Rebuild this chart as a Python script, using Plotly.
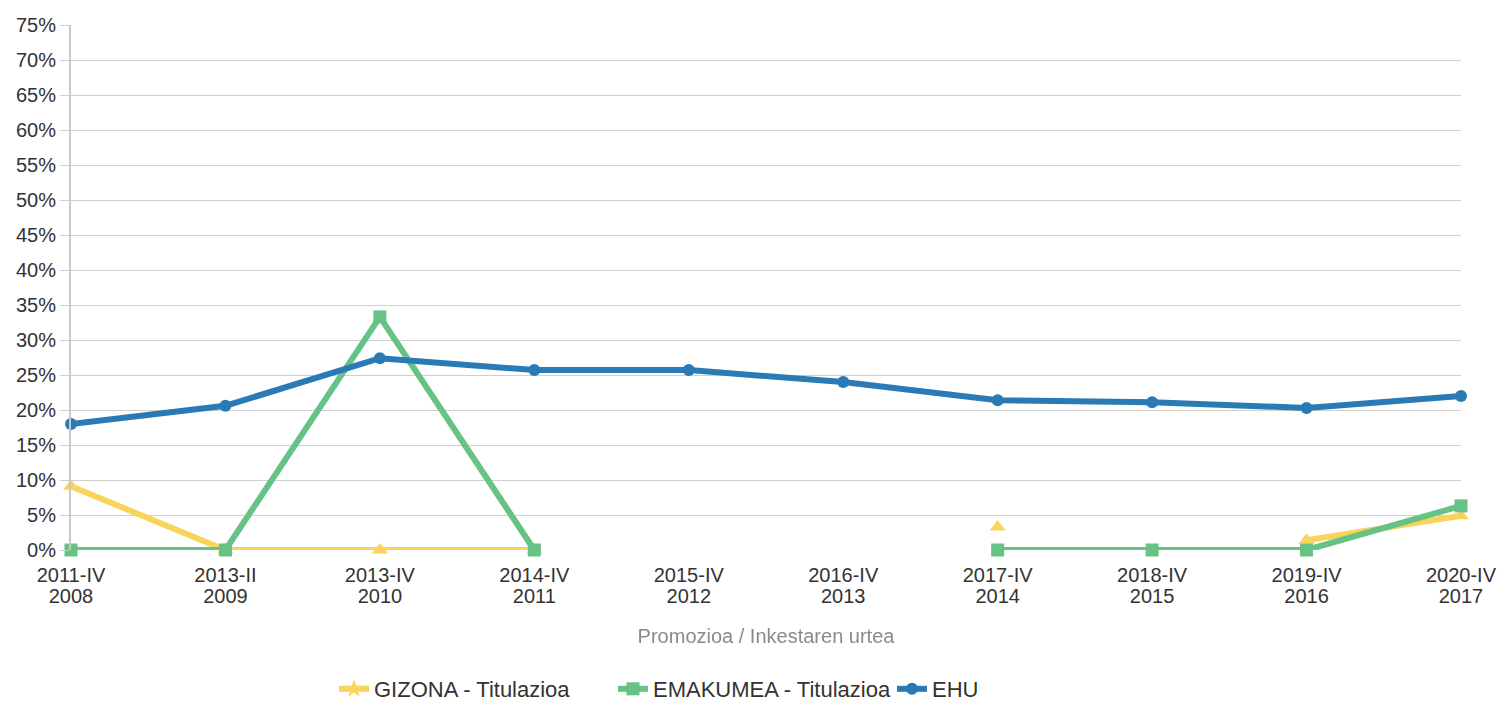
import plotly.graph_objects as go

promozioa = ["2011-IV", "2013-II", "2013-IV", "2014-IV", "2015-IV", "2016-IV",
             "2017-IV", "2018-IV", "2019-IV", "2020-IV"]
inkesta_urtea = ["2008", "2009", "2010", "2011", "2012", "2013", "2014", "2015", "2016", "2017"]
gizona = [9.1, 0, 0, 0, None, None, 3.3, None, 1.4, 4.9]
emakumea = [0, 0, 33.3, 0, None, None, 0, 0, 0, 6.3]
ehu = [18.0, 20.6, 27.4, 25.7, 25.7, 24.0, 21.4, 21.1, 20.3, 22.0]
yticks = list(range(0, 80, 5))

YEL = "#F9D45C"
GRN = "#66C285"
BLU = "#2A7AB5"
x = list(range(len(promozioa)))

fig = go.Figure()
fig.add_trace(go.Scatter(x=x, y=gizona, mode="lines+markers", name="GIZONA - Titulazioa",
                         line=dict(color=YEL, width=6), marker=dict(symbol="triangle-up", size=14, color=YEL),
                         connectgaps=False, cliponaxis=False, showlegend=False, legendgroup="g"))
fig.add_trace(go.Scatter(x=x, y=emakumea, mode="lines+markers", name="EMAKUMEA - Titulazioa",
                         line=dict(color=GRN, width=6), marker=dict(symbol="square", size=13, color=GRN),
                         connectgaps=False, cliponaxis=False, legendrank=2))
fig.add_trace(go.Scatter(x=x, y=ehu, mode="lines+markers", name="EHU",
                         line=dict(color=BLU, width=6), marker=dict(symbol="circle", size=12, color=BLU),
                         cliponaxis=False, legendrank=3))
fig.add_trace(go.Scatter(x=[None], y=[None], mode="lines+markers", name="GIZONA - Titulazioa",
                         line=dict(color=YEL, width=6), marker=dict(symbol="star", size=14, color=YEL),
                         legendgroup="g", legendrank=1))
# invisible carrier for the second (year) tick row
fig.add_trace(go.Scatter(x=x, y=ehu, xaxis="x2", mode="markers", opacity=0,
                         showlegend=False, hoverinfo="skip"))

fig.update_layout(
    width=1499, height=704,
    margin=dict(l=71, r=38, t=25, b=154, autoexpand=False),
    paper_bgcolor="white", plot_bgcolor="white",
    font=dict(family="Liberation Sans, Arial, sans-serif", size=20, color="#333333"),
    legend=dict(orientation="h", xref="container", x=0.2228, xanchor="left",
                yref="container", y=0.0213, yanchor="middle",
                font=dict(size=22, color="#333333"), entrywidth=234, entrywidthmode="pixels",
                itemwidth=30, traceorder="normal"),
    xaxis=dict(range=[0, 9], tickmode="array", tickvals=x, ticktext=promozioa,
               showgrid=False, zeroline=False, showline=False, automargin=False,
               ticks="outside", ticklen=7, tickcolor="rgba(0,0,0,0)",
               tickfont=dict(size=20, color="#333333")),
    xaxis2=dict(range=[0, 9], overlaying="x", side="bottom", anchor="y",
                tickmode="array", tickvals=x, ticktext=inkesta_urtea,
                showgrid=False, zeroline=False, showline=False, automargin=False,
                ticks="outside", ticklen=28, tickcolor="rgba(0,0,0,0)",
                tickfont=dict(size=20, color="#333333"),
                title=dict(text="Promozioa / Inkestaren urtea", font=dict(size=20, color="#8a8a8a"), standoff=22)),
    yaxis=dict(range=[0, 75], tickmode="array", tickvals=yticks, ticktext=[f"{v}%" for v in yticks],
               showgrid=True, gridcolor="#d0d0d0", gridwidth=1, zeroline=False, automargin=False,
               showline=True, linecolor="#c8c8c8", linewidth=2,
               ticks="outside", ticklen=9, tickcolor="#d0d0d0", tickwidth=1,
               tickfont=dict(size=20, color="#333333")),
)
fig.write_html("out.html", config={"displayModeBar": False},
               post_script="document.body.style.margin='0px';document.body.style.overflow='hidden';")
